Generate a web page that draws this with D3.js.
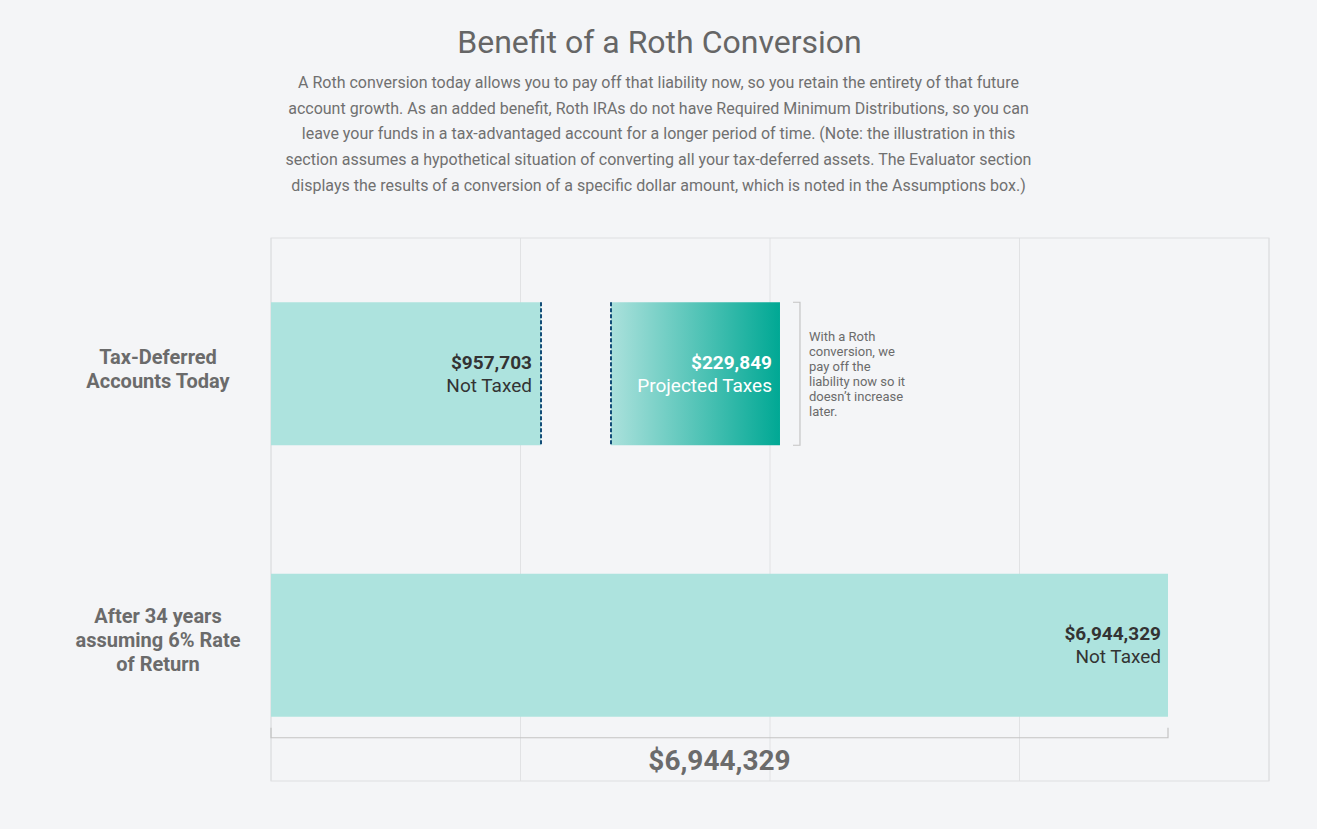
<!DOCTYPE html>
<html>
<head>
<meta charset="utf-8">
<script src="https://cdn.jsdelivr.net/npm/d3@7"></script>
<style>
  body { margin: 0; background: #f4f5f7; font-family: Roboto, "Open Sans", sans-serif; }
  .grid line { stroke: #e1e2e4; }
</style>
</head>
<body>
<script>
// chart values
var rowLabels = [
    ["Tax-Deferred", "Accounts Today"],
    ["After 34 years", "assuming 6% Rate", "of Return"]
];
var notTaxedToday = 957703;
var projectedTaxes = 229849;
var futureValue = 6944329;
var segmentLabels = ["Not Taxed", "Projected Taxes", "Not Taxed"];
var noteLines = ["With a Roth", "conversion, we", "pay off the", "liability now so it", "doesn\u2019t increase", "later."];
var title = "Benefit of a Roth Conversion";
var introLines = [
    "A Roth conversion today allows you to pay off that liability now, so you retain the entirety of that future",
    "account growth. As an added benefit, Roth IRAs do not have Required Minimum Distributions, so you can",
    "leave your funds in a tax-advantaged account for a longer period of time. (Note: the illustration in this",
    "section assumes a hypothetical situation of converting all your tax-deferred assets. The Evaluator section",
    "displays the results of a conversion of a specific dollar amount, which is noted in the Assumptions box.)"
];

var fmt = d3.format("$,");

//---------setup-----------//
var W = 1317, H = 829;
var plot = { left: 271, right: 1269, top: 238, bottom: 781 };

var svg = d3.select("body").append("svg")
    .attr("width", W)
    .attr("height", H);

var defs = svg.append("defs");
var grad = defs.append("linearGradient").attr("id", "taxGrad")
    .attr("x1", "0%").attr("x2", "100%").attr("y1", "0%").attr("y2", "0%");
grad.append("stop").attr("offset", "0%").attr("stop-color", "#abe1dc");
grad.append("stop").attr("offset", "100%").attr("stop-color", "#00a894");

// title + intro
svg.append("text")
    .attr("x", W / 2 + 1).attr("y", 53)
    .attr("text-anchor", "middle")
    .style("font-size", "32px")
    .style("fill", "#666")
    .text(title);

svg.append("g").selectAll("text")
    .data(introLines)
    .enter().append("text")
    .attr("x", W / 2)
    .attr("y", function(d, i) { return 88 + i * 25.7; })
    .attr("text-anchor", "middle")
    .style("font-size", "16px")
    .style("fill", "#707070")
    .text(function(d) { return d; });

// scales
var xMax = futureValue * 998 / 897;
var x = d3.scaleLinear()
    .domain([0, xMax])
    .range([plot.left, plot.right]);

// layout scale for the top (illustrative) row
var xTop = d3.scaleLinear()
    .domain([0, 1])
    .range([plot.left, plot.right]);

var y = d3.scaleBand()
    .domain([0, 1])
    .range([plot.top, plot.bottom])
    .paddingInner(0.4733)
    .paddingOuter(0.4733 / 2);

// gridlines
var gridTicks = d3.range(0, 5).map(function(i) { return xMax * i / 4; });
svg.append("g")
    .attr("class", "grid")
    .selectAll("line")
    .data(gridTicks)
    .enter().append("line")
    .attr("x1", function(d) { return x(d); })
    .attr("x2", function(d) { return x(d); })
    .attr("y1", plot.top)
    .attr("y2", plot.bottom);

svg.append("rect")
    .attr("x", plot.left).attr("y", plot.top)
    .attr("width", plot.right - plot.left)
    .attr("height", plot.bottom - plot.top)
    .style("fill", "none")
    .style("stroke", "#dedfe1");

// row labels
rowLabels.forEach(function(lines, r) {
    var cy = y(r) + y.bandwidth() / 2 - 5;
    var y0 = cy - (lines.length - 1) * 12;
    svg.append("g").selectAll("text")
        .data(lines)
        .enter().append("text")
        .attr("x", 158)
        .attr("y", function(d, i) { return y0 + i * 24; })
        .attr("dy", "0.35em")
        .attr("text-anchor", "middle")
        .style("font-size", "20px")
        .style("font-weight", "bold")
        .style("fill", "#6b6b6b")
        .text(function(d) { return d; });
});

//-------------bars----------//
var topY = y(0), bw = y.bandwidth();
var seg1 = [xTop(0), xTop(0.2705)];
var seg2 = [xTop(0.3407), xTop(0.5100)];

svg.append("rect")
    .attr("x", seg1[0]).attr("y", topY)
    .attr("width", seg1[1] - seg1[0]).attr("height", bw)
    .style("fill", "#ade3de");

svg.append("rect")
    .attr("x", seg2[0]).attr("y", topY)
    .attr("width", seg2[1] - seg2[0]).attr("height", bw)
    .style("fill", "url(#taxGrad)");

// dashed separators
[seg1[1], seg2[0]].forEach(function(px) {
    svg.append("line")
        .attr("x1", Math.round(px)).attr("x2", Math.round(px))
        .attr("y1", topY).attr("y2", topY + bw)
        .style("stroke", "#134d78")
        .style("stroke-width", 2)
        .style("stroke-dasharray", "4,2");
});

svg.append("rect")
    .attr("x", x(0)).attr("y", y(1))
    .attr("width", x(futureValue) - x(0)).attr("height", bw)
    .style("fill", "#ade3de");

// value labels inside bars
function barLabel(xr, cy, value, label, color) {
    svg.append("text")
        .attr("x", xr).attr("y", cy - 5)
        .attr("text-anchor", "end")
        .style("font-size", "19px")
        .style("font-weight", "bold")
        .style("fill", color)
        .text(fmt(value));
    svg.append("text")
        .attr("x", xr).attr("y", cy + 18)
        .attr("text-anchor", "end")
        .style("font-size", "19px")
        .style("fill", color)
        .text(label);
}
barLabel(seg1[1] - 9, topY + bw / 2, notTaxedToday, segmentLabels[0], "#333");
barLabel(seg2[1] - 8, topY + bw / 2, projectedTaxes, segmentLabels[1], "#fff");
barLabel(x(futureValue) - 7, y(1) + bw / 2, futureValue, segmentLabels[2], "#333");

// right bracket + note
var bx = seg2[1] + 20;
svg.append("path")
    .attr("d", "M" + (bx - 7) + "," + topY + "H" + bx + "V" + (topY + bw) + "H" + (bx - 7))
    .style("fill", "none")
    .style("stroke", "#c4c4c4")
    .style("stroke-width", 1.2);

svg.append("g").selectAll("text")
    .data(noteLines)
    .enter().append("text")
    .attr("x", bx + 9)
    .attr("y", function(d, i) { return topY + 39 + i * 15; })
    .style("font-size", "13px")
    .style("fill", "#6b6b6b")
    .text(function(d) { return d; });

// bottom bracket + total
var byb = y(1) + bw + 21;
svg.append("path")
    .attr("d", "M" + x(0) + "," + (byb - 10) + "V" + byb + "H" + x(futureValue) + "V" + (byb - 10))
    .style("fill", "none")
    .style("stroke", "#c4c4c4")
    .style("stroke-width", 1.2);

svg.append("text")
    .attr("x", (x(0) + x(futureValue)) / 2)
    .attr("y", byb + 32)
    .attr("text-anchor", "middle")
    .style("font-size", "28px")
    .style("font-weight", "bold")
    .style("fill", "#6b6b6b")
    .text(fmt(futureValue));
</script>
</body>
</html>
